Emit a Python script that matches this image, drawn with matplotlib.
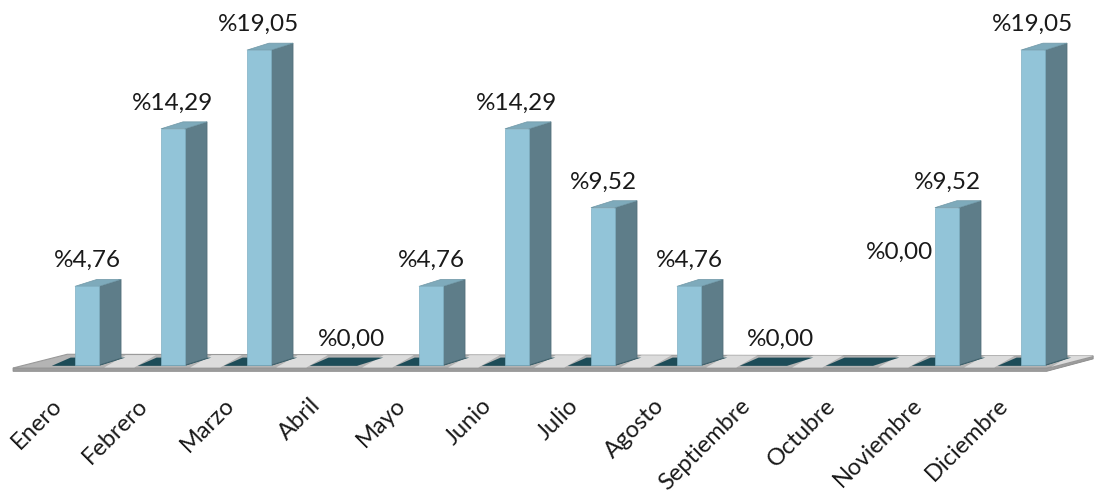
import matplotlib.pyplot as plt
from matplotlib.patches import Polygon

months = ["Enero", "Febrero", "Marzo", "Abril", "Mayo", "Junio", "Julio",
          "Agosto", "Septiembre", "Octubre", "Noviembre", "Diciembre"]
values = [4.76, 14.29, 19.05, 0.00, 4.76, 14.29, 9.52, 4.76, 0.00, 0.00, 9.52, 19.05]
# label shifts (category units, value units); Octubre's label sits off its bar in the source
label_dx = [0, 0, 0, 0.07, 0, 0, 0, 0, 0.07, 0.45, 0, 0]
label_dy = [0, 0, 0, 0, 0, 0, 0, 0, 0, 5.26, 0, 0]

FRONT = "#92c4d8"
SIDE = "#5e7d89"
TOP = "#7eaabb"
SHADOW = "#1d4c58"

plt.rcParams["font.family"] = ["Lato", "DejaVu Sans"]

fig = plt.figure(figsize=(10.96, 4.92), dpi=100)
ax = fig.add_axes([0, 0, 1, 1])
ax.set_xlim(-1.0116, 11.733)
ax.set_ylim(-7.68, 22.08)
ax.axis("off")

w = 0.28      # front face width
dx = 0.256    # depth, x
dy = 0.42     # depth, y

# floor slab
n = len(months)
floor_edge = Polygon([(-0.86, -0.18), (11.16, -0.18), (11.70, 0.55), (11.70, 0.37),
                      (11.16, -0.38), (-0.86, -0.38)],
                     closed=True, facecolor="#9c9c9c", edgecolor="#8a8a8a", lw=0.6)
floor_top = Polygon([(-0.86, -0.18), (11.16, -0.18), (11.70, 0.55), (-0.23, 0.65)],
                    closed=True, facecolor="#b4b4b4", edgecolor="#999999", lw=0.8)
ax.add_patch(floor_edge)
ax.add_patch(floor_top)

# lighter sheen between bars
for i in range(n):
    cx = i + 0.5
    sheen = Polygon([(cx - 0.3, -0.15), (cx + 0.05, -0.15), (cx + 0.3, 0.6), (cx - 0.05, 0.6)],
                    closed=True, facecolor="#e4e4e4", edgecolor="none", alpha=0.85)
    ax.add_patch(sheen)
    sheen.set_clip_path(floor_top)

for i, (m, v) in enumerate(zip(months, values)):
    x0 = i - w / 2
    # footprint shadow on floor
    ax.add_patch(Polygon([(x0 - 0.27, -0.05), (x0 + w, -0.05), (x0 + w + dx + 0.05, 0.45),
                          (x0 - 0.05, 0.45)],
                         closed=True, facecolor=SHADOW, edgecolor="none"))
    if v > 0:
        # side face
        ax.add_patch(Polygon([(x0 + w, 0), (x0 + w + dx, dy), (x0 + w + dx, v + dy), (x0 + w, v)],
                             closed=True, facecolor=SIDE, edgecolor="#4f6b76", lw=0.5))
        # top face
        ax.add_patch(Polygon([(x0, v), (x0 + w, v), (x0 + w + dx, v + dy), (x0 + dx, v + dy)],
                             closed=True, facecolor=TOP, edgecolor="#6f97a6", lw=0.5))
        # front face
        ax.bar(i, v, width=w, bottom=0, color=FRONT, edgecolor="#7fb0c3", linewidth=0.5)

    txt = "%" + f"{v:.2f}".replace(".", ",")
    ax.text(i + label_dx[i], v + 1.15 + label_dy[i], txt, ha="center", va="baseline",
            fontsize=17.5, color="#1a1a1a")

    ax.text(i - 0.33, -2.24, m, rotation=45, rotation_mode="anchor",
            ha="right", va="center", fontsize=17, color="#1a1a1a")

fig.savefig("out.png", dpi=100)
